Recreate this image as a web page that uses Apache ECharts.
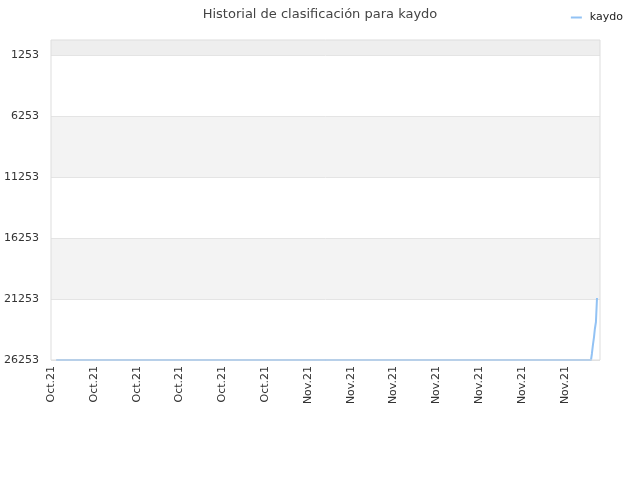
<!DOCTYPE html>
<html>
<head>
<meta charset="utf-8">
<script src="https://cdn.jsdelivr.net/npm/echarts@6/dist/echarts.min.js"></script>
<style>
html, body { margin: 0; padding: 0; background: #fff; }
#main { width: 640px; height: 480px; }
</style>
</head>
<body>
<div id="main"></div>
<script>
// tick labels along the bottom (one per tick)
var tickLabels = ['Oct.21', 'Oct.21', 'Oct.21', 'Oct.21', 'Oct.21', 'Oct.21',
    'Nov.21', 'Nov.21', 'Nov.21', 'Nov.21', 'Nov.21', 'Nov.21', 'Nov.21'];
// position of each point in tick units, and rank there
var posX = [0.12, 12.61, 12.63, 12.655, 12.68, 12.70, 12.725, 12.74, 12.75];
var rank = [26253, 26253, 25760, 25020, 24370, 23710, 23140, 23060, 21170];

var chart = echarts.init(document.getElementById('main'));

var points = [];
for (var i = 0; i < posX.length; i++) {
    points.push([posX[i], rank[i]]);
}

var option = {
    backgroundColor: '#fff',
    textStyle: { fontFamily: 'DejaVu Sans' },
    animation: false,
    title: {
        text: 'Historial de clasificación para kaydo',
        left: 'center',
        top: 3,
        textStyle: { fontSize: 13, fontWeight: 'normal', color: '#444' }
    },
    legend: {
        data: ['kaydo'],
        right: 12,
        top: 7,
        itemWidth: 11,
        itemHeight: 2,
        itemGap: 5,
        icon: 'rect',
        textStyle: { fontSize: 11, color: '#222', padding: [0, 0, 0, 3] }
    },
    grid: {
        left: 51,
        right: 40,
        top: 55,
        bottom: 120
    },
    graphic: [
        {
            type: 'rect',
            z: -1,
            shape: { x: 51, y: 40, width: 549, height: 15 },
            style: { fill: '#eeeeee' }
        },
        {
            type: 'rect',
            z: 100,
            shape: { x: 51, y: 40, width: 549, height: 320 },
            style: { fill: 'none', stroke: '#dddddd', lineWidth: 1 }
        }
    ],
    xAxis: {
        type: 'value',
        min: 0,
        max: 12.82,
        interval: 1,
        axisLine: { show: false },
        axisTick: { show: false },
        splitLine: { show: false },
        axisLabel: {
            rotate: 90,
            margin: 6,
            fontSize: 11,
            color: '#333',
            showMaxLabel: false,
            formatter: function (v) {
                if (Math.abs(v - Math.round(v)) > 1e-6) return '';
                return tickLabels[Math.round(v)] || '';
            }
        }
    },
    yAxis: {
        type: 'value',
        inverse: true,
        min: 1253,
        max: 26253,
        interval: 5000,
        axisLine: { show: false },
        axisTick: { show: false },
        axisLabel: {
            fontSize: 11,
            color: '#333',
            margin: 12,
            formatter: function (v) { return String(v); }
        },
        splitLine: { show: true, lineStyle: { color: '#e4e4e4' } },
        splitArea: { show: true, areaStyle: { color: ['#ffffff', '#f3f3f3'] } }
    },
    series: [{
        name: 'kaydo',
        type: 'line',
        data: points,
        symbol: 'none',
        lineStyle: { width: 2, color: '#92c2f4' },
        itemStyle: { color: '#92c2f4' }
    }]
};

chart.setOption(option);
</script>
</body>
</html>
